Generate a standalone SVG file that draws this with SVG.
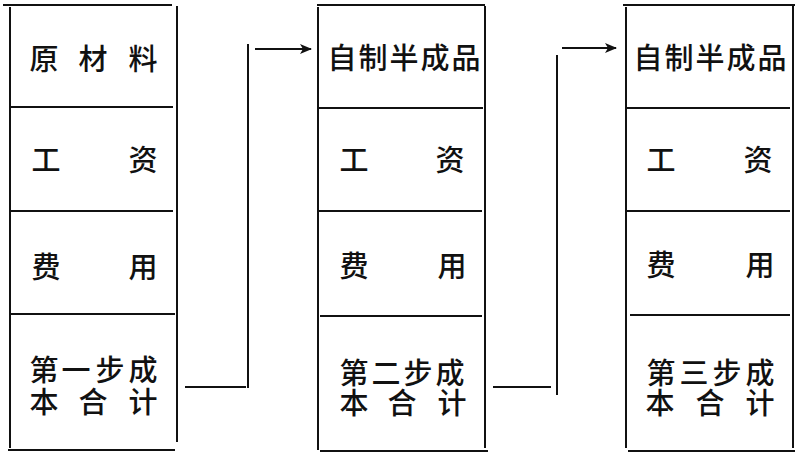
<svg xmlns="http://www.w3.org/2000/svg" width="799" height="457" viewBox="0 0 799 457">
<style>
.ln{stroke:#111;stroke-width:2;fill:none}
.t{font-family:"Noto Sans CJK SC","Noto Sans CJK TC",sans-serif;font-size:29px;font-weight:500;fill:#111;text-anchor:middle;dominant-baseline:central}
</style>
<defs>
<marker id="ah" markerWidth="12" markerHeight="10" refX="11" refY="5" orient="auto" markerUnits="userSpaceOnUse">
<path d="M0,0 L12,5 L0,10 L3,5 Z" fill="#111"/>
</marker>
</defs>
<rect width="799" height="457" fill="#fff"/>
<g id="box1">
<path class="ln" d="M3,5 H172 M10,7 V448 M177,6 V442 M10,107 H173 M10,211 H173 M10,314 H175 M8,450 H175"/>
<text class="t" x="44 93 143" y="57">原材料</text>
<text class="t" x="46 143" y="158">工资</text>
<text class="t" x="46 143" y="265">费用</text>
<text class="t"><tspan x="44 76 110 143" y="368">第一步成</tspan><tspan x="44 93 143" y="400">本合计</tspan></text>
</g>
<g id="box2">
<path class="ln" d="M317,5 H485 M318,7 V450 M485,6 V448 M318,108 H483 M318,211 H482 M320,316 H482 M320,451 H488"/>
<text class="t" x="342 373 404 435 466" y="56">自制半成品</text>
<text class="t" x="354 450" y="158">工资</text>
<text class="t" x="354 452" y="264">费用</text>
<text class="t"><tspan x="354 386 418 450" y="371">第二步成</tspan><tspan x="354 402 452" y="401">本合计</tspan></text>
</g>
<g id="box3">
<path class="ln" d="M623,5 H795 M626,7 V448 M793,6 V448 M627,108 H790 M627,211 H790 M630,315 H790 M628,451 H795"/>
<text class="t" x="648 679 710 741 772" y="56">自制半成品</text>
<text class="t" x="661 758" y="158">工资</text>
<text class="t" x="661 760" y="263">费用</text>
<text class="t"><tspan x="661 694 727 760" y="371">第三步成</tspan><tspan x="660 710 760" y="401">本合计</tspan></text>
</g>
<g id="connectors">
<path class="ln" d="M185,387 H246 M248,388 V44"/>
<path class="ln" d="M255,49 H311" marker-end="url(#ah)"/>
<path class="ln" d="M493,387 H551 M557,395 V55"/>
<path class="ln" d="M562,48 H616" marker-end="url(#ah)"/>
</g>
</svg>
